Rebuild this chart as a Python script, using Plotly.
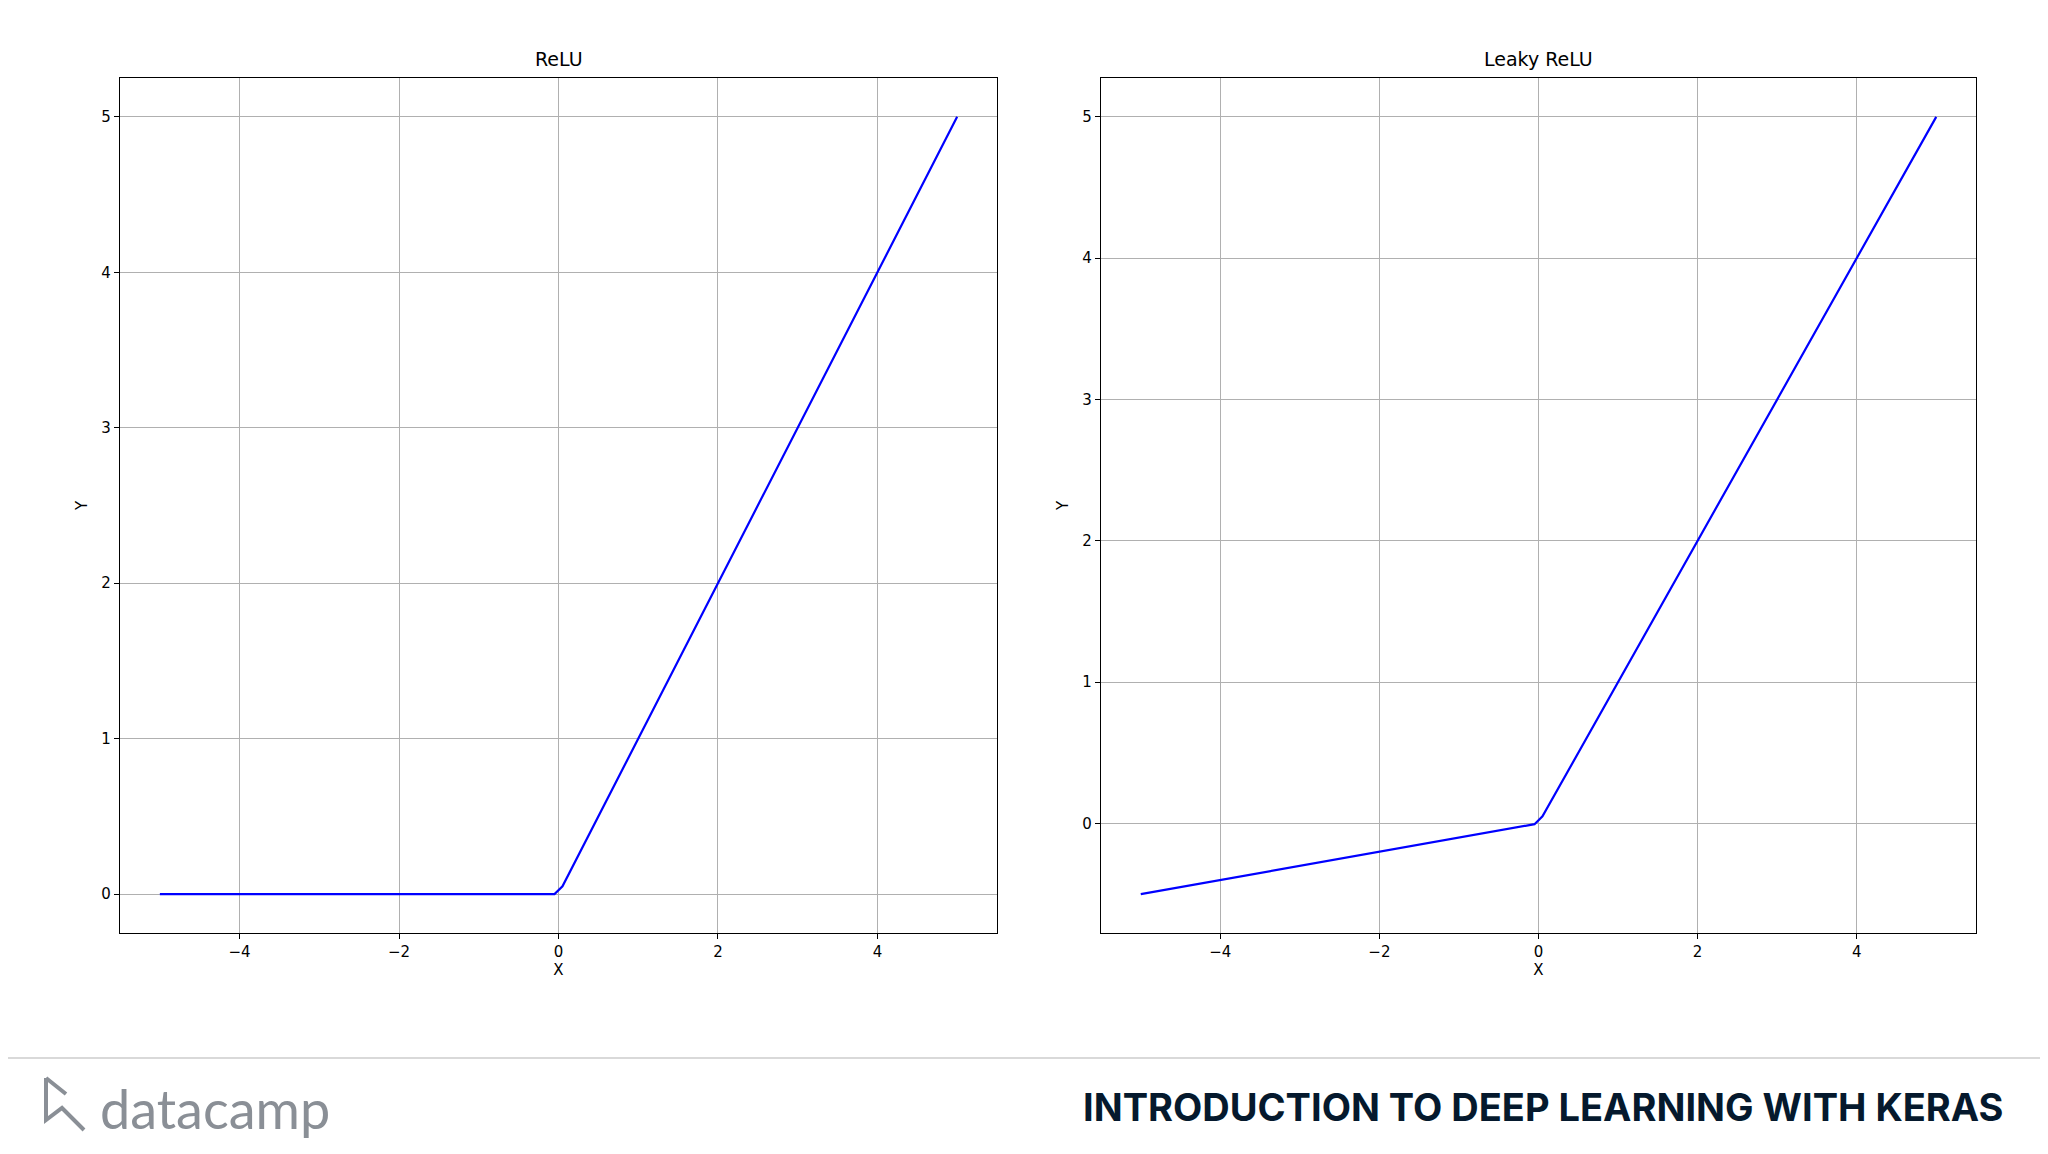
import plotly.graph_objects as go

x_vals = [-5, -0.05, 0.05, 5]
relu_y = [0, 0, 0.05, 5]
leaky_y = [-0.5, -0.005, 0.05, 5]
titles = ["ReLU", "Leaky ReLU"]

W, H = 2048, 1154
OFF = 8  # browser body margin
def px(x): return (x - OFF) / (W - 2 * OFF)
def py(y): return 1 - (y - OFF) / (H - 2 * OFF)

fig = go.Figure()
fig.add_trace(go.Scatter(x=x_vals, y=relu_y, mode="lines", line=dict(color="#0000ff", width=2.2), xaxis="x", yaxis="y"))
fig.add_trace(go.Scatter(x=x_vals, y=leaky_y, mode="lines", line=dict(color="#0000ff", width=2.2), xaxis="x2", yaxis="y2"))

axcommon = dict(showgrid=True, gridcolor="#b0b0b0", gridwidth=1, zeroline=False, showline=True, mirror=True,
                linecolor="black", linewidth=1.3, ticks="outside", ticklen=5, tickcolor="black",
                tickfont=dict(size=15, color="black"))
ticks_x = dict(tickvals=[-4, -2, 0, 2, 4], ticktext=["−4", "−2", "0", "2", "4"])
fig.update_layout(
    width=W - 2 * OFF, height=H - 2 * OFF, paper_bgcolor="white", plot_bgcolor="white", showlegend=False,
    margin=dict(l=0, r=0, t=0, b=0),
    font=dict(family="DejaVu Sans", color="black"),
    xaxis=dict(domain=[px(120), px(997)], range=[-5.5, 5.5], anchor="y",
               title=dict(text="X", font=dict(size=15), standoff=4), **ticks_x, **axcommon),
    yaxis=dict(domain=[py(933), py(78)], range=[-0.25, 5.25], dtick=1, anchor="x",
               title=dict(text="Y", font=dict(size=15), standoff=10), **axcommon),
    xaxis2=dict(domain=[px(1101), px(1976)], range=[-5.5, 5.5], anchor="y2",
                title=dict(text="X", font=dict(size=15), standoff=4), **ticks_x, **axcommon),
    yaxis2=dict(domain=[py(933), py(78)], range=[-0.775, 5.275], dtick=1, anchor="x2",
                title=dict(text="Y", font=dict(size=15), standoff=10), **axcommon),
)
for t, cx in zip(titles, [(120 + 997) / 2, (1101 + 1976) / 2]):
    fig.add_annotation(text=t, x=px(cx), y=py(72), xref="paper", yref="paper", showarrow=False,
                       xanchor="center", yanchor="bottom", font=dict(size=19))

fig.add_shape(type="line", xref="paper", yref="paper", x0=-0.01, x1=1.01, y0=py(1058), y1=py(1058),
              line=dict(color="#d9d9d9", width=2))
fig.add_annotation(text="datacamp", x=px(98), y=py(1108), xref="paper", yref="paper", xanchor="left", yanchor="middle",
                   showarrow=False, font=dict(size=54, color="#8a8f96", family="Lato"))
fig.add_shape(type="path", xref="paper", yref="paper",
              path=f"M {px(46)} {py(1078)} L {px(46)} {py(1120)} L {px(62)} {py(1108)} L {px(84)} {py(1130)} M {px(46)} {py(1078)} L {px(66)} {py(1094)}",
              line=dict(color="#8a8f96", width=4))
fig.add_annotation(text="<b>INTRODUCTION TO DEEP LEARNING WITH KERAS</b>", x=px(2005), y=py(1107), xref="paper", yref="paper",
                   xanchor="right", yanchor="middle", showarrow=False, font=dict(size=38, color="#05192d", family="Inter"))

fig.write_html("out.html")
